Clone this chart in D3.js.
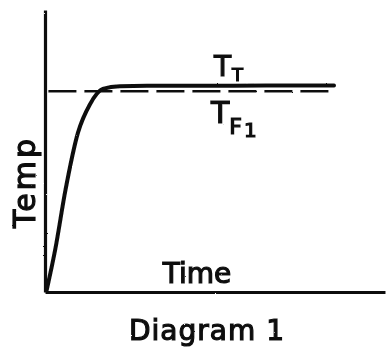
<!DOCTYPE html>
<html>
<head>
<meta charset="utf-8">
<script src="https://cdn.jsdelivr.net/npm/d3@7"></script>
<style>
  body { margin: 0; background: #fff; }
  text { font-family: "DejaVu Sans", sans-serif; fill: #111; stroke: #111; stroke-width: 1.2px; }
</style>
</head>
<body>
<div id="chart"></div>
<script>
// response curve (time, temp)
var time = [0.05, 0.3, 0.6, 0.97, 1.32, 1.7, 2.2, 3.0, 4.6, 6.5, 8.5];
var temp = [0.7, 15, 36, 56.5, 66.5, 72, 73, 73.1, 73.1, 73.2, 73.2];

// setpoint dashed line
var setTime = [0.1, 8.4];
var setTemp = [71.2, 71.2];

var svgWidth = 389;
var svgHeight = 353;

var svg = d3.select("#chart")
  .append("svg")
  .attr("width", svgWidth)
  .attr("height", svgHeight);

// rough pencil look
var filter = svg.append("defs").append("filter")
  .attr("id", "rough")
  .attr("x", "-5%").attr("y", "-5%").attr("width", "110%").attr("height", "110%");
filter.append("feTurbulence")
  .attr("type", "fractalNoise")
  .attr("baseFrequency", 0.9)
  .attr("numOctaves", 2)
  .attr("result", "noise");
filter.append("feDisplacementMap")
  .attr("in", "SourceGraphic")
  .attr("in2", "noise")
  .attr("scale", 1.6);

var g = svg.append("g").attr("filter", "url(#rough)");

var x = d3.scaleLinear().domain([0, 10]).range([45, 385]);
var y = d3.scaleLinear().domain([0, 100]).range([292, 10]);

// axes, no ticks
var xAxis = g.append("g")
  .attr("transform", `translate(0, ${y(0)})`)
  .call(d3.axisBottom(x).ticks(0).tickSizeOuter(0));
var yAxis = g.append("g")
  .attr("transform", `translate(${x(0)}, 0)`)
  .call(d3.axisLeft(y).ticks(0).tickSizeOuter(0));
xAxis.select(".domain").attr("stroke", "#111").attr("stroke-width", 3);
yAxis.select(".domain").attr("stroke", "#111").attr("stroke-width", 3.2);

// dashed final temperature
var line = d3.line()
  .x(d => x(d[0]))
  .y(d => y(d[1]));

g.append("path")
  .datum(setTime.map((t, i) => [t, setTemp[i]]))
  .attr("d", line)
  .attr("fill", "none")
  .attr("stroke", "#111")
  .attr("stroke-width", 2.6)
  .attr("stroke-dasharray", "28,8");

// temperature response
g.append("path")
  .datum(time.map((t, i) => [t, temp[i]]))
  .attr("d", line.curve(d3.curveMonotoneX))
  .attr("fill", "none")
  .attr("stroke", "#111")
  .attr("stroke-width", 4)
  .attr("stroke-linecap", "round");

// labels
g.append("text")
  .attr("transform", "translate(35, 228) rotate(-90)")
  .attr("font-size", 30)
  .attr("letter-spacing", 3)
  .text("Temp");

g.append("text")
  .attr("x", 197)
  .attr("y", 283)
  .attr("text-anchor", "middle")
  .attr("font-size", 28)
  .text("Time");

g.append("text")
  .attr("x", 207)
  .attr("y", 340)
  .attr("text-anchor", "middle")
  .attr("font-size", 28)
  .attr("letter-spacing", 1)
  .text("Diagram 1");

var tt = g.append("text")
  .attr("x", 214)
  .attr("y", 76)
  .attr("font-size", 28);
tt.append("tspan").text("T");
tt.append("tspan").attr("font-size", 18).attr("dy", 5).attr("dx", 1).text("T");

var tf = g.append("text")
  .attr("x", 211)
  .attr("y", 123)
  .attr("font-size", 30);
tf.append("tspan").text("T");
tf.append("tspan").attr("font-size", 22).attr("dy", 11).attr("dx", 0).text("F");
tf.append("tspan").attr("font-size", 20).attr("dy", 3).attr("dx", 2).text("1");
</script>
</body>
</html>
